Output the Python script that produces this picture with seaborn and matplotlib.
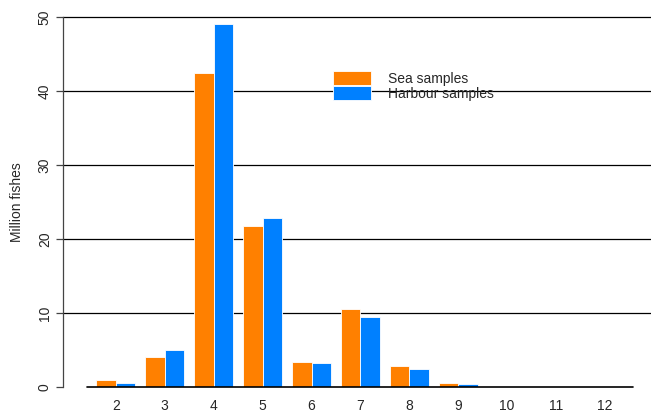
import pandas as pd
import seaborn as sns
import matplotlib.pyplot as plt

# Ages and catch estimates (million fishes)
ages = ["2", "3", "4", "5", "6", "7", "8", "9", "10", "11", "12"]
sea = [0.95, 4.1, 42.4, 21.8, 3.4, 10.5, 2.9, 0.6, 0.06, 0.05, 0.05]
harbour = [0.6, 5.0, 49.0, 22.9, 3.2, 9.4, 2.4, 0.45, 0.05, 0.04, 0.04]
series = ["Sea samples", "Harbour samples"]
colors = ["#FF8000", "#0080FF"]

df = pd.DataFrame({
    "age": ages * 2,
    "value": sea + harbour,
    "sample": [series[0]] * len(ages) + [series[1]] * len(ages),
})

sns.set_style("white")
plt.rcParams["font.family"] = ["Liberation Sans", "DejaVu Sans"]

fig = plt.figure(figsize=(6.51, 4.15), dpi=100)
ax = fig.add_axes([0.0968, 0.0675, 0.9032, 0.8915])

sns.barplot(data=df, x="age", y="value", hue="sample", order=ages,
            hue_order=series, palette=colors, width=0.8, gap=0,
            edgecolor="white", linewidth=0.6, saturation=1, ax=ax, zorder=3)

ax.set_xlim(-1.08, 10.94)
ax.set_ylim(0, 50)
ax.set_yticks([0, 10, 20, 30, 40, 50])
for y in [10, 20, 30, 40, 50]:
    ax.axhline(y, color="black", lw=0.9, zorder=1, clip_on=False)
ax.axhline(0, xmin=0.04, xmax=0.97, color="black", lw=1.2, zorder=4,
           clip_on=False)

for s in ["top", "right", "bottom"]:
    ax.spines[s].set_visible(False)
ax.spines["left"].set_color("#444444")
ax.spines["left"].set_linewidth(0.9)

ax.tick_params(axis="y", left=True, length=5, width=0.9, color="#444444",
               labelsize=10, pad=3)
for lab in ax.get_yticklabels():
    lab.set_rotation(90)
    lab.set_va("center")
ax.tick_params(axis="x", bottom=False, labelsize=10, pad=5)

ax.set_xlabel("")
ax.set_ylabel("Million fishes", fontsize=10, labelpad=10)

ax.legend(loc="upper left", bbox_to_anchor=(0.448, 0.872), frameon=False,
          handlelength=2.7, handleheight=1.15, labelspacing=0, handletextpad=1.2,
          fontsize=10, borderpad=0)

fig.savefig("out.png", dpi=100)
